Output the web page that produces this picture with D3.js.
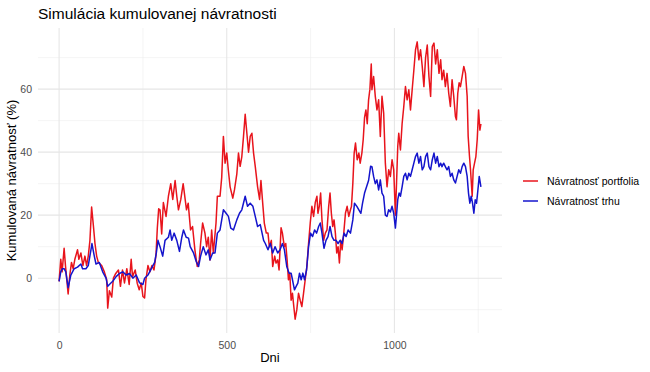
<!DOCTYPE html>
<html>
<head>
<meta charset="utf-8">
<script src="https://cdn.jsdelivr.net/npm/d3@7"></script>
<style>
  body { margin: 0; background: #fff; }
  svg { font-family: "Liberation Sans", Arial, sans-serif; }
</style>
</head>
<body>
<script>
// values (day, cumulative return %)
const portfolioDays = [0,5,9,15,19,27,32,37,42,47,55,59,65,71,77,82,87,92,97,102,107,112,117,127,135,142,145,150,157,162,169,177,183,189,195,202,209,215,219,227,233,239,245,250,255,259,265,271,277,283,289,293,297,301,306,311,319,326,333,339,346,351,356,363,370,380,385,392,398,405,412,418,422,428,435,440,445,450,455,460,468,472,480,485,490,495,500,505,510,518,523,530,535,540,545,550,555,560,565,570,575,580,585,592,598,602,608,612,618,623,627,633,637,643,647,652,656,662,666,669,672,676,680,684,688,692,696,700,704,709,714,719,724,729,734,739,744,749,754,759,764,769,772,776,780,784,789,794,799,804,808,812,816,820,824,828,832,836,840,844,849,854,859,864,869,872,876,880,884,889,894,898,903,907,911,915,919,923,927,931,933,938,943,948,953,958,963,968,973,978,983,988,993,998,1003,1006,1010,1013,1018,1023,1028,1033,1038,1043,1048,1053,1058,1063,1068,1073,1078,1083,1088,1093,1098,1103,1108,1113,1118,1123,1128,1133,1138,1142,1147,1152,1157,1162,1167,1172,1177,1182,1185,1189,1193,1197,1202,1207,1212,1217,1220,1224,1227,1232,1235,1239,1243,1247,1251,1255,1258];
const portfolioValues = [-1,6,2,9.5,4,-5,1,5,3,6,9,6,8,4,7,4,7,12,22.6,17,11,7,5,4,2,-0.5,-9.5,-4,-6,0,1.5,2.6,-2.6,2.6,-1.5,3,-2,6,0.5,2.6,-1.6,-3.7,-1.5,-5.8,-6.3,-0.5,4,2,4,2.6,7.4,16,22,21.7,14,24,19.6,26,30,25,31,26,21.7,25,30,21.7,23.8,15.3,16.4,9,3.7,5.8,11,17.5,14.3,10,13,5.8,15.3,8,17.5,26,26,32,45,36.5,39.7,34,29,25.4,28,33,39.7,35.5,38.6,45,52,46,40,45,46,39.7,35.5,29,25,31,22.8,17.5,14.3,14.3,10,12,3.7,7,4.8,5.8,2.6,16,14.3,12,10,11,5.8,-0.5,1.6,-7,-4.8,-9,-13,-10,-4.8,-7,-9,-4.8,-0.5,3.7,11,17.5,22.8,19.6,24,26,20.6,22.8,27,18.5,12,14.3,15.3,22.8,27,20.6,16.4,18.5,14.3,8,10,4.8,12,9,14.3,20.6,22.8,19.6,21.7,22.8,30,39.7,42.9,37.6,39.7,36.5,39.7,44,51,53.4,49,56.6,60,68,59.8,64,57.7,53.4,56.6,45,57.7,52.4,36.5,29,34.4,32.3,37.6,34.4,20,29,41.8,46,40.7,49,54.5,60.8,56.6,59.8,53.4,59.8,66,72.5,75,69.3,72.5,67.2,60.8,70,74,64,57.7,73.5,74.6,68,72.5,65,69.3,63,66,60.8,65,58.7,54.5,63,57.7,51.3,50.3,58.7,62,60.8,64,67.2,65,57.7,45,38.6,34.4,26,34.4,36.5,38.6,44,53.4,47,49];

const marketDays = [0,5,10,15,20,27,35,45,55,65,70,80,87,95,98,105,110,120,130,140,145,150,160,170,180,190,200,210,220,230,240,250,255,265,275,285,290,295,301,309,316,326,331,336,343,351,359,366,371,379,386,391,401,409,416,422,430,438,445,450,458,465,472,480,490,498,505,512,520,530,538,545,555,562,570,578,585,592,600,610,615,623,630,637,644,652,659,666,672,679,686,692,696,702,707,712,717,722,727,732,738,744,750,756,762,768,774,779,784,790,796,802,808,814,820,826,832,838,844,850,856,862,869,876,881,888,894,900,905,911,917,923,929,933,938,943,948,953,958,963,968,973,978,983,988,993,998,1003,1006,1010,1014,1018,1023,1028,1033,1038,1043,1048,1053,1058,1063,1068,1073,1078,1083,1088,1093,1098,1103,1108,1113,1118,1123,1128,1133,1138,1142,1147,1152,1157,1162,1167,1172,1177,1182,1187,1192,1197,1202,1207,1212,1217,1221,1225,1229,1233,1237,1241,1245,1249,1253,1258];
const marketValues = [-1,2,3,3,2,-3,1,3,3.5,4.5,3,3,4,9,11,7,4.5,5,2,0,-2.6,-2,-1,0.5,1.5,2,1,1.5,0,1,-1.5,-2,0,1,3,5,8,12,10,7,12,13,15.3,12,14.3,12,8.5,13,15.3,13,12.7,10,8,5.3,3.7,7,10,7.4,9,5.8,8,8,14.3,15.3,21.7,20.6,19.6,15.9,15.3,18.5,20.6,21.7,26,22.8,23.8,22.8,19.6,16.4,17,12,11,9,11,8,10,8,9,11,9,3.7,1.6,1.6,-0.5,-3.7,-2.6,-1.6,1.6,-0.5,1.6,-0.5,2.6,10,14.3,13.2,15.3,14.3,16.4,17.5,14.3,9.5,12,13.2,16.4,13.2,12,12,11,12,11,14.3,13.2,15.3,14.3,18.5,23.8,22.8,21.7,20.6,23.8,27,29,31,35.5,35.4,32.3,30,31.2,28,31.2,27,26,20,19.6,21.7,21,22.8,20.6,15.9,19.6,24.9,27,26,29,32.3,33.3,31.2,33.3,32.3,34.4,36.5,38.6,39.7,36.5,38.6,34.4,35.4,38.6,39.7,35.4,34.4,37.6,39.7,36.5,38.6,35.4,36.5,35.4,36.5,35.4,34.4,35.4,32.3,33.3,31.2,30.2,32.3,34.4,33.3,35.4,36.5,35.4,32.3,27,23.8,26,23.8,20.6,24.9,23.8,28,32.3,29];

const seriesNames = ["Návratnosť portfolia", "Návratnosť trhu"];
const seriesColors = ["#e8141c", "#1414cc"];
const xMajor = [0, 500, 1000];
const xMinor = [250, 750, 1250];
const yMajor = [0, 20, 40, 60];
const yMinor = [-10, 10, 30, 50, 70];

const width = 650, height = 372;
const margin = { top: 28, right: 148, bottom: 39, left: 38 };

const svg = d3.select("body").append("svg")
    .attr("width", width)
    .attr("height", height);

const series = [
    { name: seriesNames[0], color: seriesColors[0], points: portfolioDays.map((d, i) => [d, portfolioValues[i]]) },
    { name: seriesNames[1], color: seriesColors[1], points: marketDays.map((d, i) => [d, marketValues[i]]) }
];

const allPts = series.flatMap(s => s.points);
const xExt = d3.extent(allPts, p => p[0]);
const yExt = d3.extent(allPts, p => p[1]);
const xPad = (xExt[1] - xExt[0]) * 0.05;
const yPad = (yExt[1] - yExt[0]) * 0.05;

const x = d3.scaleLinear()
    .domain([xExt[0] - xPad, xExt[1] + xPad])
    .range([margin.left, width - margin.right]);

const y = d3.scaleLinear()
    .domain([yExt[0] - yPad, yExt[1] + yPad])
    .range([height - margin.bottom, margin.top]);

const grid = svg.append("g");

// minor grid
grid.selectAll(".ymin").data(yMinor).enter().append("line")
    .attr("x1", margin.left).attr("x2", width - margin.right)
    .attr("y1", d => y(d)).attr("y2", d => y(d))
    .attr("stroke", "#ebebeb").attr("stroke-width", 0.55);
grid.selectAll(".xmin").data(xMinor).enter().append("line")
    .attr("y1", margin.top).attr("y2", height - margin.bottom)
    .attr("x1", d => x(d)).attr("x2", d => x(d))
    .attr("stroke", "#ebebeb").attr("stroke-width", 0.55);

// major grid
grid.selectAll(".ymaj").data(yMajor).enter().append("line")
    .attr("x1", margin.left).attr("x2", width - margin.right)
    .attr("y1", d => y(d)).attr("y2", d => y(d))
    .attr("stroke", "#e6e6e6").attr("stroke-width", 1.07);
grid.selectAll(".xmaj").data(xMajor).enter().append("line")
    .attr("y1", margin.top).attr("y2", height - margin.bottom)
    .attr("x1", d => x(d)).attr("x2", d => x(d))
    .attr("stroke", "#e6e6e6").attr("stroke-width", 1.07);

// axes (labels only, like theme_minimal)
const xAxis = svg.append("g")
    .attr("transform", `translate(0,${height - margin.bottom})`)
    .call(d3.axisBottom(x).tickValues(xMajor).tickFormat(d3.format("d")).tickSize(0).tickPadding(9));
const yAxis = svg.append("g")
    .attr("transform", `translate(${margin.left},0)`)
    .call(d3.axisLeft(y).tickValues(yMajor).tickFormat(d3.format("d")).tickSize(0).tickPadding(6));
[xAxis, yAxis].forEach(a => {
    a.select(".domain").remove();
    a.selectAll("text")
        .attr("fill", "#4d4d4d")
        .style("font-size", "10.5px")
        .style("font-family", "'Liberation Sans', Arial, sans-serif");
});

const line = d3.line()
    .x(p => x(p[0]))
    .y(p => y(p[1]));

svg.selectAll(".series").data(series).enter().append("path")
    .attr("fill", "none")
    .attr("stroke", s => s.color)
    .attr("stroke-width", 1.5)
    .attr("stroke-linejoin", "round")
    .attr("d", s => line(s.points));

// title and axis titles
svg.append("text")
    .attr("x", margin.left).attr("y", 19)
    .style("font-size", "15.5px")
    .attr("fill", "#000")
    .text("Simulácia kumulovanej návratnosti");

svg.append("text")
    .attr("x", (margin.left + width - margin.right) / 2)
    .attr("y", 362)
    .attr("text-anchor", "middle")
    .style("font-size", "13px")
    .text("Dni");

svg.append("text")
    .attr("transform", `translate(16,${(margin.top + height - margin.bottom) / 2}) rotate(-90)`)
    .attr("text-anchor", "middle")
    .style("font-size", "13px")
    .text("Kumulovaná návratnosť (%)");

// legend
const legend = svg.append("g").attr("transform", "translate(523,181)");
const items = legend.selectAll("g").data(series).enter().append("g")
    .attr("transform", (d, i) => `translate(0,${i * 20})`);
items.append("line")
    .attr("x1", 0).attr("x2", 15)
    .attr("stroke", d => d.color)
    .attr("stroke-width", 1.5);
items.append("text")
    .attr("x", 24).attr("dy", "0.35em")
    .style("font-size", "10.5px")
    .text(d => d.name);
</script>
</body>
</html>
